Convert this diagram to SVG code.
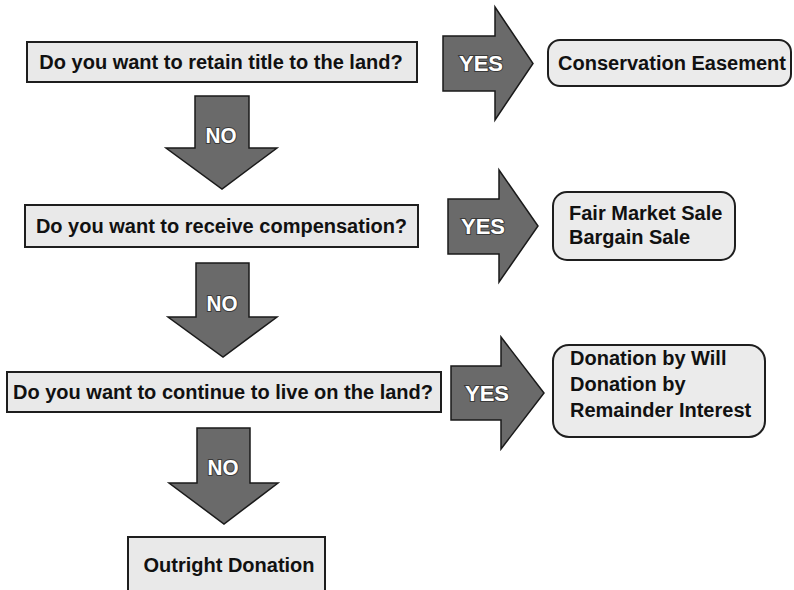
<svg xmlns="http://www.w3.org/2000/svg" width="794" height="590" viewBox="0 0 794 590">
<style>
  .q { fill: #e9e9e9; stroke: #1e1e1e; stroke-width: 2; }
  .r { fill: #ebebeb; stroke: #1e1e1e; stroke-width: 2; }
  .t { font-family: "Liberation Sans", Arial, sans-serif; font-weight: bold; font-size: 20px; fill: #111; }
  .m { text-anchor: middle; }
  .arr { fill: #6a6a6a; stroke: #1a1a1a; stroke-width: 1.5; stroke-linejoin: miter; }
  .lbl { font-family: "Liberation Sans", Arial, sans-serif; font-weight: bold; font-size: 22px; fill: #ffffff; stroke: #3a3a3a; stroke-width: 2; paint-order: stroke; text-anchor: middle; }
</style>
<rect width="794" height="590" fill="#ffffff"/>

<g id="connectors">
  <g id="yes1"><path class="arr" d="M443,36 L495,36 L495,7 L533,63.5 L495,120 L495,91 L443,91 Z"/><text class="lbl" x="481" y="71" textLength="44" lengthAdjust="spacingAndGlyphs">YES</text></g>
  <g id="yes2"><path class="arr" d="M448,199 L499,199 L499,170 L538,226 L499,282 L499,254 L448,254 Z"/><text class="lbl" x="483" y="234" textLength="44" lengthAdjust="spacingAndGlyphs">YES</text></g>
  <g id="yes3"><path class="arr" d="M451,366 L501,366 L501,337 L544,393 L501,449 L501,420 L451,420 Z"/><text class="lbl" x="487" y="401" textLength="44" lengthAdjust="spacingAndGlyphs">YES</text></g>
  <g id="no1"><path class="arr" d="M195,96 L249,96 L249,148 L277,148 L222,189 L166,148 L195,148 Z"/><text class="lbl" x="221" y="143" textLength="31" lengthAdjust="spacingAndGlyphs">NO</text></g>
  <g id="no2"><path class="arr" d="M196,263 L249,263 L249,317 L277,317 L223,357 L168,317 L196,317 Z"/><text class="lbl" x="222" y="311" textLength="31" lengthAdjust="spacingAndGlyphs">NO</text></g>
  <g id="no3"><path class="arr" d="M197,428 L250,428 L250,483 L278,483 L224,524 L169,483 L197,483 Z"/><text class="lbl" x="223" y="475" textLength="31" lengthAdjust="spacingAndGlyphs">NO</text></g>
</g>

<g id="q1"><rect class="q" x="27" y="42" width="390" height="40"/><text class="t m" x="221" y="69">Do you want to retain title to the land?</text></g>
<g id="q2"><rect class="q" x="25" y="205" width="393" height="42"/><text class="t m" x="221.5" y="233">Do you want to receive compensation?</text></g>
<g id="q3"><rect class="q" x="7" y="372" width="434" height="40"/><text class="t m" x="223" y="399">Do you want to continue to live on the land?</text></g>

<g id="a1"><rect class="r" x="548" y="40" width="243" height="46" rx="12"/><text class="t m" x="672" y="70">Conservation Easement</text></g>
<g id="a2"><rect class="r" x="553" y="192" width="182" height="68" rx="14"/><text class="t" x="569" y="220">Fair Market Sale</text><text class="t" x="569" y="244">Bargain Sale</text></g>
<g id="a3"><rect class="r" x="553" y="345" width="212" height="92" rx="16"/><text class="t" x="570" y="365">Donation by Will</text><text class="t" x="570" y="391">Donation by</text><text class="t" x="570" y="417">Remainder Interest</text></g>
<g id="a4"><rect class="q" x="128" y="537" width="197" height="70"/><text class="t m" x="229" y="572">Outright Donation</text></g>
</svg>
